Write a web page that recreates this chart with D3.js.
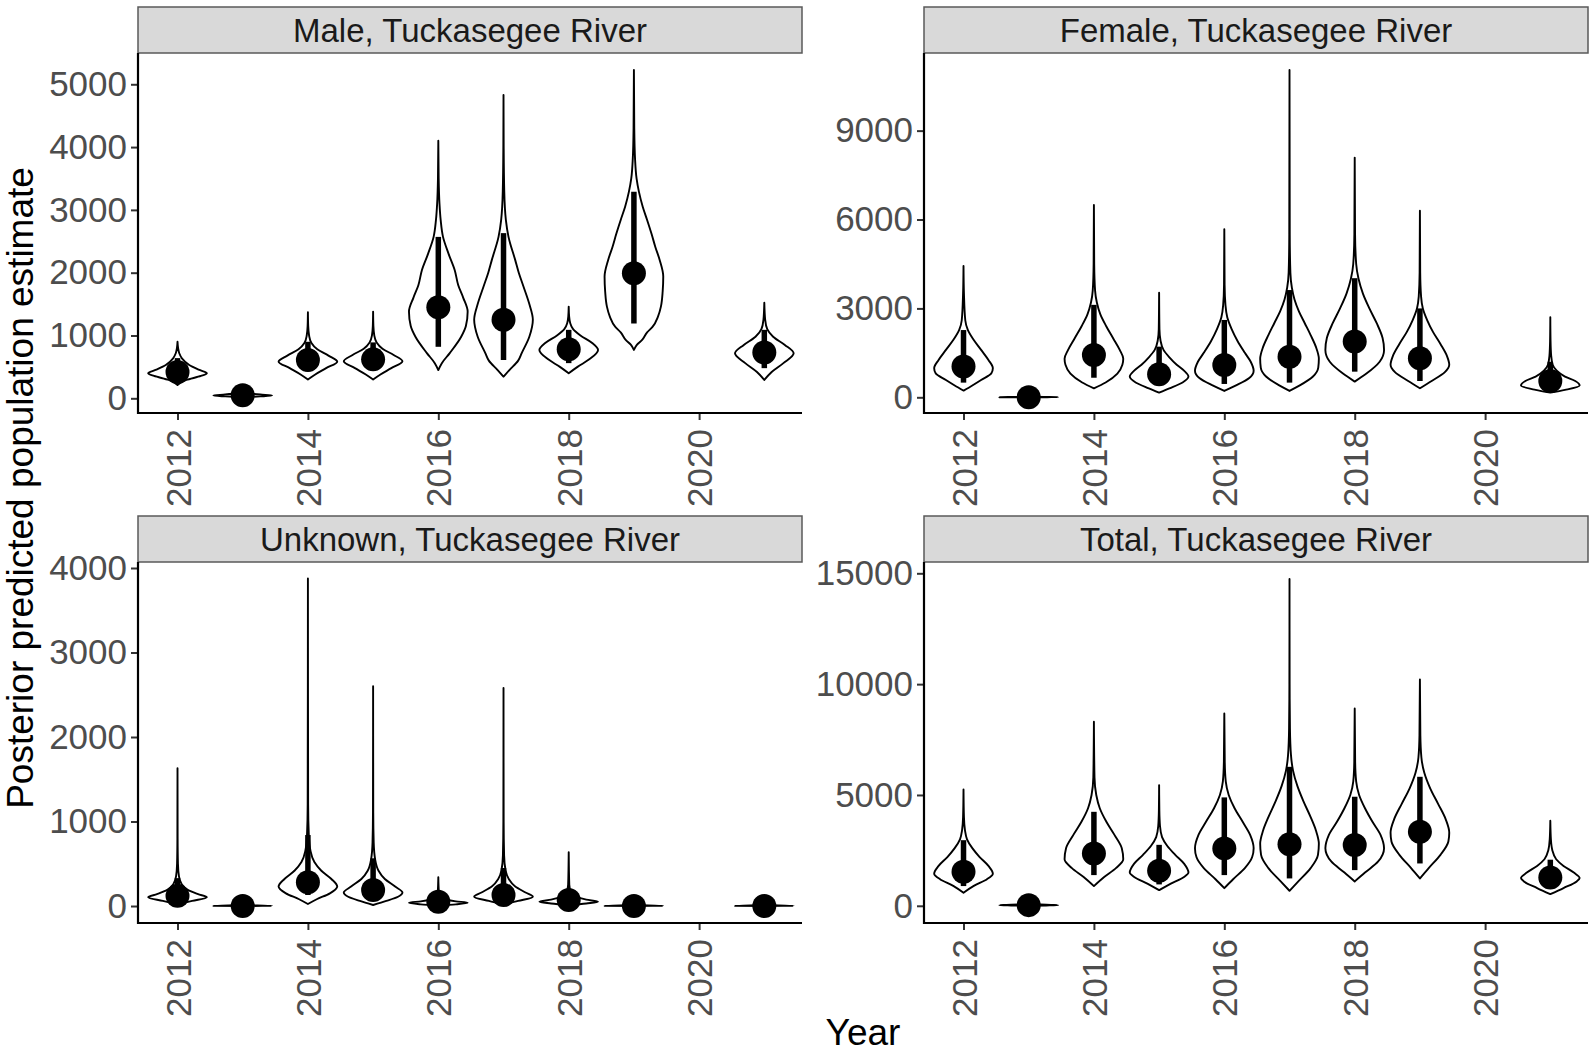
<!DOCTYPE html>
<html>
<head>
<meta charset="utf-8">
<script src="https://cdn.jsdelivr.net/npm/d3@7"></script>
<style>
  body { margin: 0; background: #fff; }
  svg { font-family: "Liberation Sans", Arial, sans-serif; }
</style>
</head>
<body>
<div id="chart"></div>
<script>
// years with a violin in every panel
const years = [2012, 2013, 2014, 2015, 2016, 2017, 2018, 2019, 2021];
const xTicks = [2012, 2014, 2016, 2018, 2020];

const panelTitles = ["Male, Tuckasegee River", "Female, Tuckasegee River",
                     "Unknown, Tuckasegee River", "Total, Tuckasegee River"];

// ---- Male ----
const maleTicks = [0, 1000, 2000, 3000, 4000, 5000];
const maleMedian = [420, 50, 610, 620, 1450, 1250, 780, 1990, 730];
const maleLow = [240, 25, 430, 440, 820, 610, 560, 1190, 480];
const maleHigh = [640, 75, 900, 890, 2570, 2630, 1090, 3290, 1090];
// density outline: [value, relative half width]
const maleShape = [
  [[212,0],[292,.3],[356,.8],[398,1],[451,.75],[531,.4],[637,.15],[717,.06],[800,.02],[900,0]],
  [[15,0],[30,.6],[45,1],[60,.6],[80,.2],[110,0]],
  [[300,0],[380,.25],[480,.62],[584,1],[680,.7],[780,.32],[880,.12],[1000,.04],[1150,.01],[1370,0]],
  [[300,0],[380,.25],[480,.62],[590,1],[690,.7],[790,.32],[890,.12],[1000,.04],[1150,.01],[1380,0]],
  [[450,0],[560,.12],[720,.39],[980,.78],[1150,.94],[1380,1],[1600,.85],[1800,.68],[2040,.56],[2300,.35],[2570,.16],[2840,.08],[3100,.04],[3500,.012],[4100,0]],
  [[345,0],[450,.2],[600,.5],[720,.62],[980,.88],[1250,1],[1500,.88],[1780,.68],[2000,.52],[2200,.4],[2570,.17],[2840,.08],[3300,.025],[4000,.006],[4830,0]],
  [[398,0],[500,.3],[620,.7],[770,1],[880,.8],[1000,.4],[1100,.15],[1200,.05],[1300,.015],[1460,0]],
  [[770,0],[850,.1],[930,.28],[1050,.45],[1140,.64],[1300,.82],[1460,.92],[1700,.98],[1940,1],[2200,.88],[2410,.73],[2620,.6],[2840,.45],[3050,.3],[3290,.17],[3500,.09],[3800,.04],[4300,.012],[5228,0]],
  [[292,0],[420,.25],[560,.65],[716,1],[850,.7],[980,.3],[1100,.1],[1250,.03],[1523,0]]
];

// ---- Female ----
const femaleTicks = [0, 3000, 6000, 9000];
const femaleMedian = [1040, 0, 1430, 780, 1090, 1370, 1880, 1320, 550];
const femaleLow = [495, 0, 660, 415, 450, 495, 865, 550, 250];
const femaleHigh = [2270, 20, 3120, 1710, 2610, 3620, 4020, 3000, 1200];
const femaleShape = [
  [[225,0],[400,.3],[585,.6],[810,.95],[980,1],[1260,.85],[1600,.6],[1935,.35],[2270,.15],[2600,.06],[3500,.015],[4430,0]],
  [[0,0],[4,1],[12,.5],[20,0]],
  [[300,0],[500,.4],[800,.8],[1100,.97],[1300,1],[1600,.88],[2000,.65],[2400,.42],[2800,.22],[3200,.1],[3600,.04],[4500,.01],[6490,0]],
  [[157,0],[300,.35],[500,.8],[700,1],[900,.85],[1100,.6],[1350,.35],[1600,.15],[1900,.05],[2300,.012],[3530,0]],
  [[214,0],[400,.4],[650,.85],[900,1],[1200,.9],[1500,.7],[1900,.45],[2300,.25],[2700,.1],[3100,.04],[3800,.01],[5670,0]],
  [[214,0],[400,.35],[700,.8],[1000,.98],[1300,1],[1700,.9],[2100,.72],[2500,.52],[2900,.32],[3300,.17],[3700,.08],[4200,.03],[5500,.008],[11050,0]],
  [[529,0],[800,.4],[1200,.85],[1600,1],[2000,.95],[2500,.75],[3000,.5],[3500,.28],[4000,.13],[4500,.05],[5500,.012],[8090,0]],
  [[304,0],[550,.4],[850,.85],[1100,1],[1400,.92],[1800,.7],[2200,.45],[2600,.25],[3000,.1],[3400,.04],[4200,.01],[6300,0]],
  [[157,0],[250,.5],[400,1],[550,.85],[700,.5],[900,.22],[1100,.08],[1400,.03],[1900,.008],[2700,0]]
];

// ---- Unknown ----
const unknownTicks = [0, 1000, 2000, 3000, 4000];
const unknownMedian = [120, 0, 280, 190, 50, 130, 70, 0, 0];
const unknownLow = [30, 0, 130, 70, 10, 50, 20, 0, 0];
const unknownHigh = [330, 10, 840, 565, 100, 450, 130, 10, 10];
const unknownShape = [
  [[20,0],[60,.5],[103,1],[140,.7],[190,.35],[260,.14],[350,.05],[500,.015],[800,.004],[1630,0]],
  [[0,0],[2,1],[6,.5],[12,0]],
  [[24,0],[80,.3],[150,.75],[230,1],[320,.8],[420,.45],[520,.22],[650,.09],[850,.03],[1200,.008],[3877,0]],
  [[12,0],[60,.45],[110,.85],[160,1],[230,.75],[320,.4],[420,.18],[550,.07],[750,.02],[1100,.005],[2600,0]],
  [[5,0],[20,.6],[38,1],[55,.6],[80,.25],[110,.08],[160,.02],[340,0]],
  [[20,0],[60,.5],[110,1],[160,.75],[230,.4],[320,.18],[420,.07],[600,.02],[1000,.005],[2580,0]],
  [[8,0],[30,.6],[50,1],[75,.6],[110,.25],[160,.08],[250,.02],[636,0]],
  [[0,0],[2,1],[6,.5],[12,0]],
  [[0,0],[2,1],[6,.5],[12,0]]
];

// ---- Total ----
const totalTicks = [0, 5000, 10000, 15000];
const totalMedian = [1535, 30, 2360, 1580, 2590, 2780, 2740, 3340, 1280];
const totalLow = [890, 10, 1385, 965, 1385, 1235, 1610, 1910, 930];
const totalHigh = [2960, 60, 4240, 2750, 4890, 6270, 4920, 5820, 2080];
const totalShape = [
  [[587,0],[900,.35],[1200,.8],[1450,1],[1800,.85],[2200,.55],[2600,.3],[3000,.12],[3400,.05],[4000,.015],[5250,0]],
  [[0,0],[15,.6],[30,1],[50,.6],[80,0]],
  [[888,0],[1300,.35],[1700,.75],[2100,1],[2600,.95],[3200,.7],[3800,.42],[4400,.2],[5000,.08],[5800,.02],[8300,0]],
  [[707,0],[1000,.4],[1300,.85],[1500,1],[1900,.85],[2300,.55],[2700,.28],[3100,.1],[3600,.03],[4300,.008],[5446,0]],
  [[797,0],[1200,.3],[1700,.7],[2200,.95],[2600,1],[3200,.88],[3800,.62],[4400,.35],[5000,.15],[5600,.05],[6500,.015],[8680,0]],
  [[677,0],[1100,.3],[1700,.72],[2300,.97],[2800,1],[3400,.9],[4000,.72],[4700,.48],[5400,.27],[6100,.12],[6800,.05],[8000,.015],[10000,.004],[14740,0]],
  [[1098,0],[1500,.35],[2000,.8],[2600,1],[3200,.88],[3800,.6],[4400,.35],[5000,.15],[5600,.05],[6500,.015],[8906,0]],
  [[1234,0],[1700,.3],[2300,.7],[2900,.97],[3300,1],[3900,.88],[4600,.62],[5300,.35],[6000,.15],[6700,.05],[7700,.015],[10215,0]],
  [[527,0],[800,.45],[1100,.9],[1250,1],[1500,.8],[1800,.45],[2100,.2],[2500,.07],[3000,.02],[3836,0]]
];

const width = 1595, height = 1055;
const svg = d3.select("#chart").append("svg")
    .attr("width", width)
    .attr("height", height);

// panel boxes (pixels)
const cols = [{ left: 138, right: 802 }, { left: 924, right: 1588 }];
const rows = [{ strip: 7, top: 53, bottom: 413 }, { strip: 516, top: 562, bottom: 923 }];

const panels = [
  { title: panelTitles[0], col: 0, row: 0, domain: [-234, 5498], ticks: maleTicks,
    median: maleMedian, low: maleLow, high: maleHigh, shape: maleShape },
  { title: panelTitles[1], col: 1, row: 0, domain: [-530, 11620], ticks: femaleTicks,
    median: femaleMedian, low: femaleLow, high: femaleHigh, shape: femaleShape },
  { title: panelTitles[2], col: 0, row: 1, domain: [-201, 4071], ticks: unknownTicks,
    median: unknownMedian, low: unknownLow, high: unknownHigh, shape: unknownShape },
  { title: panelTitles[3], col: 1, row: 1, domain: [-776, 15510], ticks: totalTicks,
    median: totalMedian, low: totalLow, high: totalHigh, shape: totalShape }
];

const tickColor = "#4d4d4d";

panels.forEach(function (p) {
    const c = cols[p.col], r = rows[p.row];
    const x = d3.scaleLinear().domain([2011.394, 2021.578]).range([c.left, c.right]);
    const y = d3.scaleLinear().domain(p.domain).range([r.bottom, r.top]);
    const halfW = (x(2012.45) - x(2012));

    const g = svg.append("g");

    // strip
    g.append("rect")
        .attr("x", c.left).attr("y", r.strip)
        .attr("width", c.right - c.left).attr("height", r.top - r.strip)
        .attr("fill", "#d9d9d9")
        .attr("stroke", "#595959")
        .attr("stroke-width", 1.5);
    g.append("text")
        .attr("x", (c.left + c.right) / 2)
        .attr("y", (r.strip + r.top) / 2)
        .attr("dy", "0.36em")
        .attr("text-anchor", "middle")
        .attr("font-size", 33)
        .attr("fill", "#1a1a1a")
        .text(p.title);

    // y axis
    const yAxis = g.append("g")
        .attr("transform", "translate(" + c.left + ",0)")
        .call(d3.axisLeft(y).tickValues(p.ticks).tickSize(7).tickPadding(4).tickFormat(d3.format("d")));
    yAxis.select(".domain").remove();
    yAxis.selectAll(".tick line").attr("stroke", "#333").attr("stroke-width", 2);
    yAxis.selectAll(".tick text").attr("font-size", 35).attr("fill", tickColor)
        .attr("font-family", "Liberation Sans, Arial, sans-serif");

    // x axis
    const xAxis = g.append("g")
        .attr("transform", "translate(0," + r.bottom + ")")
        .call(d3.axisBottom(x).tickValues(xTicks).tickSize(7).tickFormat(d3.format("d")));
    xAxis.select(".domain").remove();
    xAxis.selectAll(".tick line").attr("stroke", "#333").attr("stroke-width", 2);
    xAxis.selectAll(".tick text")
        .attr("font-size", 35).attr("fill", tickColor)
        .attr("font-family", "Liberation Sans, Arial, sans-serif")
        .attr("text-anchor", "end")
        .attr("transform", "translate(0,16) rotate(-90)")
        .attr("x", 0).attr("y", 0).attr("dy", "0.36em");

    // axis lines
    g.append("line")
        .attr("x1", c.left).attr("x2", c.left)
        .attr("y1", r.top).attr("y2", r.bottom + 1)
        .attr("stroke", "#000").attr("stroke-width", 2.2);
    g.append("line")
        .attr("x1", c.left - 1).attr("x2", c.right)
        .attr("y1", r.bottom).attr("y2", r.bottom)
        .attr("stroke", "#000").attr("stroke-width", 2.2);

    // violins
    years.forEach(function (yr, i) {
        const cx = x(yr);
        const area = d3.area()
            .curve(d3.curveMonotoneY)
            .y(d => y(d[0]))
            .x0(d => cx - halfW * d[1])
            .x1(d => cx + halfW * d[1]);
        g.append("path")
            .attr("d", area(p.shape[i]))
            .attr("fill", "#fff")
            .attr("stroke", "#000")
            .attr("stroke-width", 1.9)
            .attr("stroke-linejoin", "round");
        g.append("line")
            .attr("x1", cx).attr("x2", cx)
            .attr("y1", y(p.low[i])).attr("y2", y(p.high[i]))
            .attr("stroke", "#000")
            .attr("stroke-width", 5.5);
        g.append("circle")
            .attr("cx", cx).attr("cy", y(p.median[i]))
            .attr("r", 12)
            .attr("fill", "#000");
    });
});

// axis titles
svg.append("text")
    .attr("transform", "translate(33,488) rotate(-90)")
    .attr("text-anchor", "middle")
    .attr("font-size", 37)
    .attr("fill", "#000")
    .text("Posterior predicted population estimate");

svg.append("text")
    .attr("x", 863).attr("y", 1045)
    .attr("text-anchor", "middle")
    .attr("font-size", 37)
    .attr("fill", "#000")
    .text("Year");
</script>
</body>
</html>
